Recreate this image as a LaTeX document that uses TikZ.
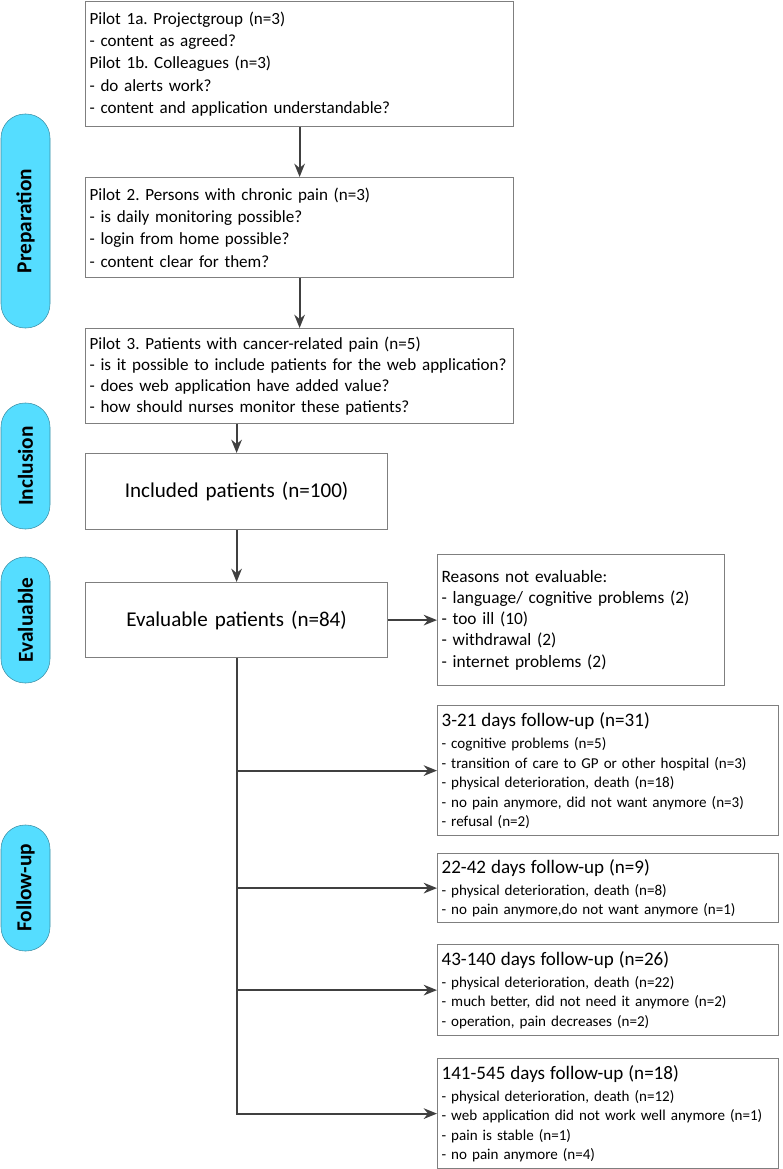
\documentclass[tikz,border=0pt]{standalone}
\usepackage{fontspec}
\setmainfont{Carlito}
\frenchspacing
\usetikzlibrary{positioning,arrows.meta}
\definecolor{boxline}{HTML}{7F7F7F}
\definecolor{arrowline}{HTML}{404040}
\definecolor{pillfill}{HTML}{55DDFF}
\definecolor{pillline}{HTML}{3C8DA3}

\begin{document}
\begin{tikzpicture}[x=0.75pt,y=-0.75pt,
    box/.style={draw=boxline,line width=0.9pt,anchor=north west,align=left,inner xsep=3pt,inner ysep=0pt},
    pilot/.style={box,text width=315pt,font=\fontsize{12.8}{16.8}\selectfont},
    count/.style={box,align=center,text width=220.5pt,font=\fontsize{15.8}{18}\selectfont},
    reason/.style={box,text width=249.75pt,font=\fontsize{11.3}{14.6}\selectfont},
    pill/.style={draw=pillline,fill=pillfill,rounded corners=18pt,rotate=90,minimum height=36.75pt,font=\bfseries\fontsize{16}{18}\selectfont},
    arr/.style={draw=arrowline,line width=1.4pt,-{Stealth[length=10pt,width=8pt]}}]
    \useasboundingbox (0,0) rectangle (782,1169);
    % phases
    \node[pill,minimum width=160.5pt] (prep) at (25.5,221) {Preparation};
    \node[pill,minimum width=94.5pt] (incphase) at (25.5,466) {Inclusion};
    \node[pill,minimum width=94.5pt] (evalphase) at (25.5,620) {Evaluable};
    \node[pill,minimum width=94.5pt] (fuphase) at (25.5,888) {Follow-up};
    % pilots
    \node[pilot,minimum height=93.75pt] (p1) at (85,1) {Pilot 1a. Projectgroup (n=3)\\- content as agreed?\\Pilot 1b. Colleagues (n=3)\\- do alerts work?\\- content and application understandable?};
    \node[pilot,minimum height=75pt] (p2) at (85,177) {Pilot 2. Persons with chronic pain (n=3)\\- is daily monitoring possible?\\- login from home possible?\\- content clear for them?};
    \node[pilot,minimum height=71.25pt,font=\fontsize{12.8}{15.9}\selectfont] (p3) at (85,328) {Pilot 3. Patients with cancer-related pain (n=5)\\- is it possible to include patients for the web application?\\- does web application have added value?\\- how should nurses monitor these patients?};
    % patients
    \node[count,minimum height=57pt] (incl) at (85,453) {Included patients (n=100)};
    \node[count,minimum height=56.25pt] (eval) at (85,582) {Evaluable patients (n=84)};
    \node[box,text width=209.25pt,minimum height=98.25pt,font=\fontsize{13}{15.9}\selectfont] (notev) at (437,554) {Reasons not evaluable:\\- language/ cognitive problems (2)\\- too ill (10)\\- withdrawal (2)\\- internet problems (2)};
    % follow-up
    \node[reason,minimum height=97.5pt] (fu1) at (437,705) {{\fontsize{14.3}{16}\selectfont 3-21 days follow-up (n=31)}\\[2pt]- cognitive problems (n=5)\\- transition of care to GP or other hospital (n=3)\\- physical deterioration, death (n=18)\\- no pain anymore, did not want anymore (n=3)\\- refusal (n=2)};
    \node[reason,minimum height=51.75pt] (fu2) at (437,853) {{\fontsize{14.3}{16}\selectfont 22-42 days follow-up (n=9)}\\[2pt]- physical deterioration, death (n=8)\\- no pain anymore,do not want anymore (n=1)};
    \node[reason,minimum height=68.25pt] (fu3) at (437,944) {{\fontsize{14.3}{16}\selectfont 43-140 days follow-up (n=26)}\\[2pt]- physical deterioration, death (n=22)\\- much better, did not need it anymore (n=2)\\- operation, pain decreases (n=2)};
    \node[reason,minimum height=82.5pt] (fu4) at (437,1058) {{\fontsize{14.3}{16}\selectfont 141-545 days follow-up (n=18)}\\[2pt]- physical deterioration, death (n=12)\\- web application did not work well anymore (n=1)\\- pain is stable (n=1)\\- no pain anymore (n=4)};
    % connectors
    \draw[arr] (p1) -- (p2);
    \draw[arr] (p2) -- (p3);
    \draw[arr] (p3.south -| incl) -- (incl);
    \draw[arr] (incl) -- (eval);
    \draw[arr] (eval) -- (eval -| notev.west);
    \draw[arr] (eval.south) |- (fu4);
    \foreach \n in {fu1,fu2,fu3}
        \draw[arr] (eval.south |- \n.west) -- (\n);
\end{tikzpicture}
\end{document}
